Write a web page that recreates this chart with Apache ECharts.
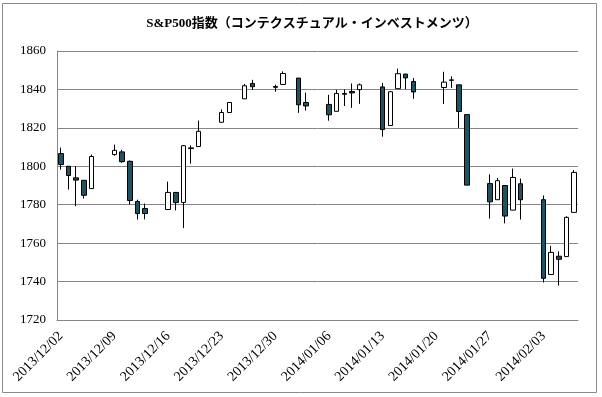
<!DOCTYPE html>
<html>
<head>
<meta charset="utf-8">
<script src="https://cdn.jsdelivr.net/npm/echarts@6/dist/echarts.min.js"></script>
<style>
html,body{margin:0;padding:0;background:#fff;}
#c{width:602px;height:397px;}
</style>
</head>
<body>
<div id="c"></div>
<script>
// Trading days and OHLC values
const dates = [
  '2013/12/02','2013/12/03','2013/12/04','2013/12/05','2013/12/06',
  '2013/12/09','2013/12/10','2013/12/11','2013/12/12','2013/12/13',
  '2013/12/16','2013/12/17','2013/12/18','2013/12/19','2013/12/20',
  '2013/12/23','2013/12/24','2013/12/26','2013/12/27',
  '2013/12/30','2013/12/31','2014/01/02','2014/01/03',
  '2014/01/06','2014/01/07','2014/01/08','2014/01/09','2014/01/10',
  '2014/01/13','2014/01/14','2014/01/15','2014/01/16','2014/01/17',
  '2014/01/21','2014/01/22','2014/01/23','2014/01/24',
  '2014/01/27','2014/01/28','2014/01/29','2014/01/30','2014/01/31',
  '2014/02/03','2014/02/04','2014/02/05','2014/02/06','2014/02/07'
];
const opens = [
  1806.6,1800.0,1794.0,1792.7,1788.4,
  1806.1,1807.5,1802.6,1781.7,1778.0,
  1777.5,1786.4,1781.2,1809.2,1810.3,
  1822.9,1828.0,1835.1,1843.1,
  1841.5,1842.6,1845.9,1833.2,
  1832.2,1828.6,1837.9,1838.9,1839.9,
  1841.3,1821.2,1840.4,1848.0,1844.1,
  1841.0,1844.7,1842.4,1826.9,
  1791.0,1782.6,1790.0,1777.2,1790.9,
  1782.6,1743.7,1753.2,1753.0,1776.0
];
const highs = [
  1809.7,1800.1,1800.0,1792.8,1806.1,
  1811.3,1808.6,1803.0,1782.6,1780.6,
  1792.0,1786.6,1810.9,1810.9,1823.8,
  1829.6,1833.2,1842.8,1845.0,
  1842.5,1849.4,1845.9,1838.3,
  1837.2,1839.8,1840.0,1843.1,1843.1,
  1843.4,1839.2,1850.8,1848.0,1845.9,
  1849.2,1846.8,1842.4,1826.9,
  1795.8,1793.9,1790.1,1798.8,1793.6,
  1784.8,1758.6,1755.7,1774.0,1798.0
];
const lows = [
  1798.3,1787.9,1779.2,1783.2,1788.4,
  1805.5,1801.8,1780.1,1772.3,1772.4,
  1777.5,1777.0,1767.8,1801.4,1810.2,
  1822.9,1828.0,1835.0,1839.8,
  1838.8,1842.4,1827.8,1829.0,
  1823.7,1828.6,1831.4,1830.4,1832.5,
  1815.4,1821.2,1840.4,1840.2,1835.1,
  1832.4,1840.8,1820.0,1790.2,
  1772.8,1782.6,1770.3,1777.2,1772.3,
  1739.5,1743.7,1737.9,1753.0,1776.0
];
const closes = [
  1800.9,1795.2,1792.8,1784.9,1805.1,
  1808.3,1802.4,1782.2,1775.4,1775.4,
  1786.4,1781.1,1810.7,1809.6,1818.2,
  1828.0,1833.2,1841.9,1841.4,
  1841.1,1848.3,1832.0,1831.4,
  1826.8,1837.9,1837.5,1838.2,1842.4,
  1819.1,1838.8,1848.2,1846.0,1838.7,
  1843.8,1845.0,1828.5,1790.2,
  1781.5,1792.5,1774.1,1794.2,1782.6,
  1741.7,1755.2,1751.6,1773.4,1796.8
];
const yTicks = [1720,1740,1760,1780,1800,1820,1840,1860];
const titleText = 'S&P500指数（コンテクスチュアル・インベストメンツ）';

// calendar-day category axis (weekends/holidays stay empty)
function pad(n){return n<10?'0'+n:''+n;}
function fmt(d){return d.getFullYear()+'/'+pad(d.getMonth()+1)+'/'+pad(d.getDate());}
const categories = [];
const p0 = dates[0].split('/'), p1 = dates[dates.length-1].split('/');
const start = new Date(+p0[0], +p0[1]-1, +p0[2]);
const end = new Date(+p1[0], +p1[1]-1, +p1[2]);
for (let d = new Date(start); d <= end; d.setDate(d.getDate()+1)) categories.push(fmt(d));

const data = dates.map((d,i)=>[d, opens[i], closes[i], lows[i], highs[i]]);

const serif = "'Liberation Serif','DejaVu Serif',serif";
const chart = echarts.init(document.getElementById('c'), null, {renderer:'canvas'});
chart.setOption({
  animation:false,
  backgroundColor:'#fff',
  title:{
    text:titleText, left:307, top:12, textAlign:'center',
    textStyle:{fontFamily:"'Liberation Serif','Noto Sans CJK JP',serif", fontWeight:'bold', fontSize:13, color:'#000'}
  },
  graphic:[{type:'rect', shape:{x:2.5,y:3.5,width:594,height:389}, style:{fill:'none', stroke:'#8a8a8a', lineWidth:1}, silent:true}],
  grid:{left:57, top:51, width:521, height:269},
  xAxis:{
    type:'category', data:categories, boundaryGap:true,
    axisLine:{lineStyle:{color:'#868686', width:1}},
    axisTick:{show:false},
    axisLabel:{interval:6, rotate:45, margin:14, color:'#000', fontFamily:serif, fontSize:14},
    splitLine:{show:false}
  },
  yAxis:{
    type:'value', min:yTicks[0], max:yTicks[yTicks.length-1], interval:20,
    axisLine:{show:true, lineStyle:{color:'#868686', width:1}},
    axisTick:{show:false},
    axisLabel:{margin:11, color:'#000', fontFamily:serif, fontSize:13, formatter:function(v){return String(v);}},
    splitLine:{lineStyle:{color:'#868686', width:1}}
  },
  series:[{
    type:'candlestick',
    data:data,
    encode:{x:0, y:[1,2,3,4]},
    barWidth:5,
    itemStyle:{color:'#ffffff', color0:'#1f5363', borderColor:'#000', borderColor0:'#000', borderWidth:1}
  }]
});
</script>
</body>
</html>
